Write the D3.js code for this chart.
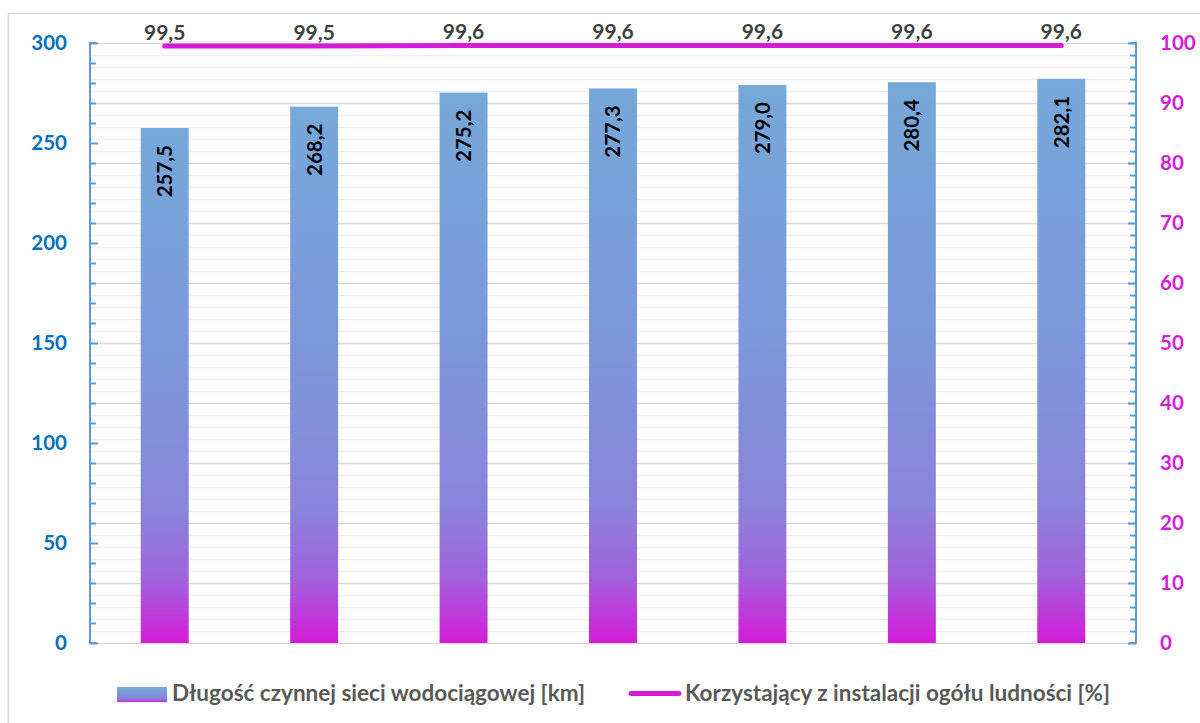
<!DOCTYPE html>
<html>
<head>
<meta charset="utf-8">
<script src="https://cdn.jsdelivr.net/npm/d3@7"></script>
<style>
  html, body { margin: 0; padding: 0; background: #fff; }
  svg { display: block; font-family: Lato, "Open Sans", sans-serif; font-weight: bold; }
</style>
</head>
<body>
<svg id="chart" width="1200" height="723"></svg>
<script>
// Network length (km) and share of population served (%), seven consecutive periods
const categories = ["1", "2", "3", "4", "5", "6", "7"];
const networkKm = [257.5, 268.2, 275.2, 277.3, 279.0, 280.4, 282.1];
const servedPct = [99.5, 99.5, 99.6, 99.6, 99.6, 99.6, 99.6];
const leftTicks = [0, 50, 100, 150, 200, 250, 300];
const rightTicks = [0, 10, 20, 30, 40, 50, 60, 70, 80, 90, 100];
const seriesNames = ["Długość czynnej sieci wodociągowej [km]", "Korzystający z instalacji ogółu ludności [%]"];

const fmt = v => d3.format(".1f")(v).replace(".", ",");

const svg = d3.select("#chart");
const M = { left: 90, right: 1136, top: 43, bottom: 643 };
const magenta = "#d41cd8";
const axisBlue = "#5b9bd5";

// outer frame
svg.append("rect").attr("x", 8.5).attr("y", 13.5).attr("width", 1200).attr("height", 720)
  .attr("fill", "#fff").attr("stroke", "#d9d9d9").attr("stroke-width", 1.5);

const x = d3.scaleBand().domain(categories).range([M.left, M.right])
  .paddingInner(0.679).paddingOuter(0.3395);
const yL = d3.scaleLinear().domain([0, 300]).range([M.bottom, M.top]);
const yR = d3.scaleLinear().domain([0, 100]).range([M.bottom, M.top]);

// bar gradient
const defs = svg.append("defs");
const grad = defs.append("linearGradient").attr("id", "barGrad")
  .attr("x1", 0).attr("y1", 0).attr("x2", 0).attr("y2", 1);
[[0, "#76a8d9"], [0.45, "#7c98da"], [0.75, "#8a84da"], [0.88, "#a062dc"], [1, "#d41cd8"]]
  .forEach(([o, c]) => grad.append("stop").attr("offset", o).attr("stop-color", c));

// gridlines from the right scale (minor every 2, major every 10)
const gridVals = d3.range(0, 101, 2);
svg.append("g").selectAll("line").data(gridVals).join("line")
  .attr("x1", M.left).attr("x2", M.right)
  .attr("y1", d => Math.round(yR(d)) + 0.5).attr("y2", d => Math.round(yR(d)) + 0.5)
  .attr("stroke", d => d % 10 === 0 ? "#d9d9d9" : "#efefef")
  .attr("stroke-width", 1.5);

// bars
svg.append("g").selectAll("rect").data(networkKm).join("rect")
  .attr("x", (d, i) => x(categories[i]))
  .attr("width", x.bandwidth())
  .attr("y", d => yL(d))
  .attr("height", d => yL(0) - yL(d))
  .attr("fill", "url(#barGrad)");

// bar value labels (rotated, inside top)
svg.append("g").selectAll("text").data(networkKm).join("text")
  .attr("transform", (d, i) => `translate(${x(categories[i]) + x.bandwidth() / 2},${yL(d) + 17}) rotate(-90)`)
  .attr("text-anchor", "end").attr("dy", "0.36em")
  .attr("font-size", 20.5).attr("fill", "#000")
  .text(fmt);

// left axis: ticks pointing inward, labels outside
const gL = svg.append("g").attr("transform", `translate(${M.left},0)`);
gL.call(d3.axisRight(yL).tickValues(d3.range(0, 301, 10)).tickSize(6).tickFormat(""));
gL.selectAll(".tick line").attr("x2", d => d % 50 === 0 ? 8 : 6);
gL.selectAll("path, line").attr("stroke", axisBlue).attr("stroke-width", 2);
gL.select(".domain").attr("d", `M6,${M.top}H0V${M.bottom}H6`);
const gLl = svg.append("g").attr("transform", `translate(${M.left},0)`);
gLl.call(d3.axisLeft(yL).tickValues(leftTicks).tickSize(0).tickPadding(23));
gLl.select(".domain").remove();
gLl.selectAll("text").attr("font-size", 20.5).attr("font-family", "Lato, sans-serif")
  .attr("font-weight", "bold").attr("fill", "#0070c0");

// right axis
const gR = svg.append("g").attr("transform", `translate(${M.right},0)`);
gR.call(d3.axisLeft(yR).tickValues(d3.range(0, 101, 2)).tickSize(6).tickFormat(""));
gR.selectAll(".tick line").attr("x2", d => d % 10 === 0 ? -8 : -6);
gR.selectAll("path, line").attr("stroke", axisBlue).attr("stroke-width", 2);
gR.select(".domain").attr("d", `M-6,${M.top}H0V${M.bottom}H-6`);
const gRl = svg.append("g").attr("transform", `translate(${M.right},0)`);
gRl.call(d3.axisRight(yR).tickValues(rightTicks).tickSize(0).tickPadding(24));
gRl.select(".domain").remove();
gRl.selectAll("text").attr("font-size", 20.5).attr("font-family", "Lato, sans-serif")
  .attr("font-weight", "bold").attr("fill", magenta);

// line series
const cx = i => x(categories[i]) + x.bandwidth() / 2;
svg.append("path").datum(servedPct)
  .attr("d", d3.line().x((d, i) => cx(i)).y(d => yR(d)))
  .attr("fill", "none").attr("stroke", magenta).attr("stroke-width", 5)
  .attr("stroke-linecap", "round");

svg.append("g").selectAll("text").data(servedPct).join("text")
  .attr("x", (d, i) => cx(i)).attr("y", d => yR(d) - 6)
  .attr("text-anchor", "middle").attr("font-size", 21).attr("fill", "#404040")
  .text(fmt);

// legend
const lg = svg.append("g");
lg.append("rect").attr("x", 117).attr("y", 687).attr("width", 50).attr("height", 15)
  .attr("fill", "url(#barGrad)");
lg.append("text").attr("x", 172).attr("y", 701).attr("font-size", 22.5).attr("fill", "#595959")
  .text(seriesNames[0]);
lg.append("line").attr("x1", 631).attr("x2", 679).attr("y1", 693.5).attr("y2", 693.5)
  .attr("stroke", magenta).attr("stroke-width", 5).attr("stroke-linecap", "round");
lg.append("text").attr("x", 685).attr("y", 701).attr("font-size", 22.5).attr("fill", "#595959")
  .text(seriesNames[1]);
</script>
</body>
</html>
